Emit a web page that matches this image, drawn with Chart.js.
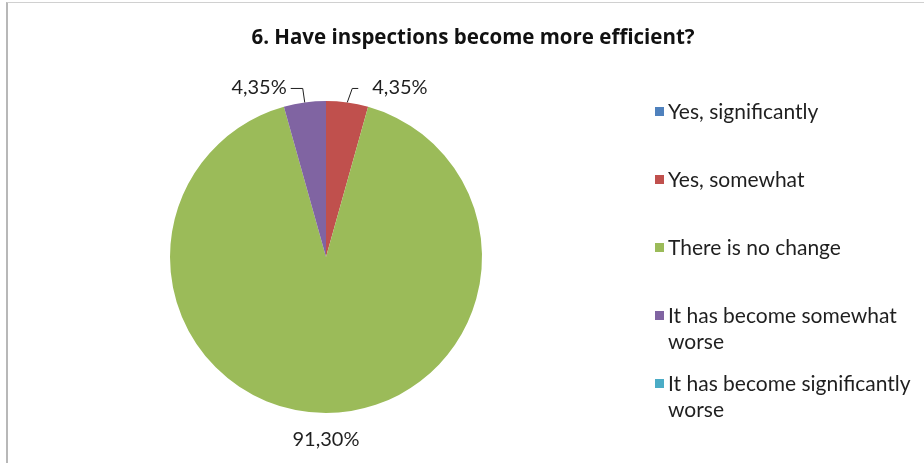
<!DOCTYPE html>
<html>
<head>
<meta charset="utf-8">
<script src="https://cdn.jsdelivr.net/npm/chart.js@4.4.1/dist/chart.umd.min.js"></script>
<style>
  html, body { margin: 0; padding: 0; background: #fff; }
  #wrap { position: relative; width: 924px; height: 463px; }
  #frame { position: absolute; left: 6px; top: 2px; right: 0; bottom: 0; border-left: 2px solid #b8b8b8; border-top: 1px solid #d0d0d0; pointer-events: none; }
  canvas { display: block; }
</style>
</head>
<body>
<div id="wrap">
  <canvas id="pie" width="924" height="463"></canvas>
  <div id="frame"></div>
</div>
<script>
const TITLE = '6. Have inspections become more efficient?';
const labels = ['Yes, significantly', 'Yes, somewhat', 'There is no change', 'It has become somewhat worse', 'It has become significantly worse'];
const values = [0, 4.35, 91.30, 4.35, 0];
const colors = ['#4F81BD', '#C0504D', '#9BBB59', '#8064A2', '#4BACC6'];

const fmt = v => v.toFixed(2).replace('.', ',') + '%';

// title, percent labels with leader lines, and a wrapped legend on the right
const extras = {
    id: 'extras',
    afterDraw(chart) {
        const ctx = chart.ctx;
        const meta = chart.getDatasetMeta(0);
        ctx.save();
        ctx.textBaseline = 'middle';
        ctx.textAlign = 'center';
        ctx.fillStyle = '#111';
        ctx.font = 'bold 20.5px "Open Sans"';
        ctx.fillText(TITLE, 473, 38);

        ctx.font = '20px Lato';
        ctx.fillStyle = '#1f1f1f';
        ctx.strokeStyle = '#1f1f1f';
        ctx.lineWidth = 1;
        meta.data.forEach((arc, i) => {
            const v = values[i];
            if (!v) return;
            const p = arc.getProps(['x', 'y', 'startAngle', 'endAngle', 'outerRadius'], true);
            const mid = (p.startAngle + p.endAngle) / 2;
            const ex = p.x + Math.cos(mid) * p.outerRadius;
            const ey = p.y + Math.sin(mid) * p.outerRadius;
            if (v > 50) {
                // big slice: label below the pie, no leader
                ctx.textAlign = 'center';
                ctx.fillText(fmt(v), p.x, p.y + p.outerRadius + 27);
                return;
            }
            const right = Math.cos(mid) >= 0;
            const ky = ey - 14;
            const kx = ex + (right ? 5 : -2);
            const hx = kx + (right ? 6 : -12);
            ctx.beginPath();
            ctx.moveTo(ex, ey);
            ctx.lineTo(kx, ky);
            ctx.lineTo(hx, ky);
            ctx.stroke();
            ctx.textAlign = right ? 'left' : 'right';
            ctx.fillText(fmt(v), hx + (right ? 14 : -4), ky - 1);
        });

        // legend
        ctx.font = '21px Lato';
        const lx = 655, tx = 668, maxW = 250, lineH = 26;
        const rows = [112, 180, 248, 316, 384];
        ctx.textAlign = 'left';
        labels.forEach((lab, i) => {
            const y = rows[i];
            ctx.fillStyle = colors[i];
            ctx.fillRect(lx, y - 5, 9, 9);
            ctx.fillStyle = '#1f1f1f';
            const words = lab.split(' ');
            let line = '', ly = y;
            words.forEach(w => {
                const test = line ? line + ' ' + w : w;
                if (ctx.measureText(test).width > maxW && line) {
                    ctx.fillText(line, tx, ly);
                    line = w;
                    ly += lineH;
                } else line = test;
            });
            ctx.fillText(line, tx, ly);
        });
        ctx.restore();
    }
};

new Chart(document.getElementById('pie').getContext('2d'), {
    type: 'pie',
    data: {
        labels: labels,
        datasets: [{ data: values, backgroundColor: colors, borderWidth: 0 }]
    },
    options: {
        responsive: false,
        animation: false,
        layout: { padding: { left: 169, right: 441, top: 101, bottom: 50 } },
        plugins: {
            legend: { display: false },
            tooltip: { enabled: false },
            title: { display: false }
        }
    },
    plugins: [extras]
});
</script>
</body>
</html>
